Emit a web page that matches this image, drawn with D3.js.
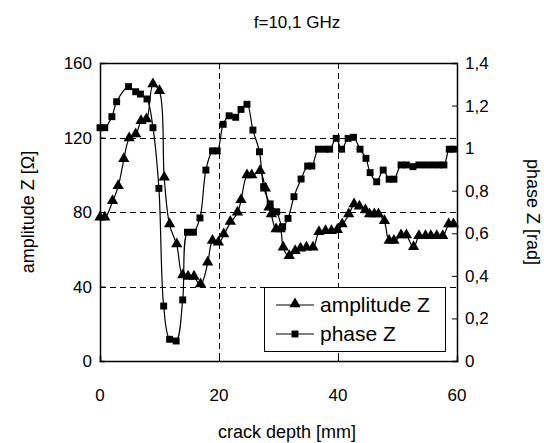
<!DOCTYPE html>
<html>
<head>
<meta charset="utf-8">
<script src="https://cdn.jsdelivr.net/npm/d3@7"></script>
<style>
  body { margin: 0; background: #fff; }
  text { font-family: "Liberation Sans", Arial, sans-serif; fill: #000; }
</style>
</head>
<body>
<svg id="chart" width="544" height="443"></svg>
<script>
// amplitude Z [Ohm] vs crack depth [mm]
let ampX = [0, 0.8, 2.1, 3.05, 4, 4.9, 6, 6.9, 7.8, 8.9, 10, 10.8, 11.7, 12.9, 13.9, 14.8, 15.8, 16.9, 18.1, 18.9, 19.9,
  20.8, 21.9, 23.1, 23.7, 24.7, 25.5, 26.9, 27.8, 28.4, 28.8, 29.6, 30.3, 30.8, 31.8, 32.8, 33.7, 34.7, 35.8, 36.8,
  37.9, 38.9, 39.9, 40.7, 41.8, 42.7, 43.6, 44.6, 45.3, 46.1, 46.8, 47.8, 48.6, 49.4, 50.6, 51.5, 52.7, 53.6, 54.7,
  55.6, 56.6, 57.6, 58.6, 59.4]
let ampY = [76.6, 76.6, 85.5, 93.6, 108, 119.2, 121.3, 128.5, 129.4, 148.2, 144.6, 98.1, 73, 62.3, 45.6, 44.9, 44.9,
  40.8, 52.5, 64.1, 63.2, 67.7, 74.3, 79.3, 86.1, 99.3, 99.3, 101.6, 92.2, 82, 78.4, 70.3, 70.3, 60.5, 56, 58.7, 60,
  60.5, 60.5, 68.9, 69.4, 69.4, 70, 73, 78.4, 83.8, 82.5, 80.5, 78.4, 78.4, 78.4, 74.8, 64.1, 64.1, 67.1, 67.1, 60.8,
  66.7, 66.7, 66.7, 66.7, 66.7, 73, 73]

// phase Z [rad] vs crack depth [mm]
let phaseX = [0, 0.8, 2, 2.8, 4.8, 6, 6.8, 7.9, 8.9, 9.9, 10.7, 11.7, 12.8, 13.9, 14.7, 15.7, 16.8, 17.8, 18.9, 19.7,
  20.7, 21.7, 22.8, 23.7, 24.7, 25.7, 26.8, 27.5, 28.6, 29.7, 30.7, 31.6, 32.6, 33.8, 34.9, 35.6, 36.7, 37.8, 38.6,
  39.7, 40.6, 41.7, 42.6, 43.7, 44.7, 45.4, 46.5, 47.6, 48.6, 49.4, 50.6, 51.5, 52.6, 53.6, 54.7, 55.8, 56.9, 57.8,
  58.7, 59.4]
let phaseY = [1.096, 1.096, 1.148, 1.218, 1.289, 1.265, 1.254, 1.231, 1.096, 0.811, 0.258, 0.102, 0.094, 0.287, 0.605,
  0.605, 0.672, 0.897, 0.987, 0.987, 1.112, 1.152, 1.145, 1.182, 1.206, 1.085, 0.983, 0.819, 0.738, 0.701, 0.631,
  0.670, 0.772, 0.855, 0.916, 0.916, 0.995, 0.995, 0.995, 1.046, 0.995, 1.046, 1.051, 0.995, 0.952, 0.885, 0.842,
  0.897, 0.854, 0.854, 0.921, 0.921, 0.913, 0.921, 0.921, 0.921, 0.921, 0.921, 0.995, 0.995]

let xTicks = [0, 20, 40, 60]
let ampTicks = [0, 40, 80, 120, 160]
let phaseTicks = [0, 0.2, 0.4, 0.6, 0.8, 1, 1.2, 1.4]

let pLeft = 100, pRight = 457, pTop = 63, pBottom = 361

let svg = d3.select('#chart')

let x = d3.scaleLinear().domain([0, 60]).range([pLeft, pRight])
let yAmp = d3.scaleLinear().domain([0, 160]).range([pBottom, pTop])
let yPhase = d3.scaleLinear().domain([0, 1.4]).range([pBottom, pTop])

let comma = (d) => String(d).replace('.', ',')

// grid
let grid = svg.append('g').attr('stroke', '#000').attr('stroke-width', 1).attr('stroke-dasharray', '6,4')
grid.selectAll('.hg').data([40, 80, 120]).enter().append('line')
  .attr('x1', pLeft).attr('x2', pRight)
  .attr('y1', (d) => Math.round(yAmp(d)) + 0.5).attr('y2', (d) => Math.round(yAmp(d)) + 0.5)
grid.selectAll('.vg').data([20, 40]).enter().append('line')
  .attr('y1', pTop).attr('y2', pBottom)
  .attr('x1', (d) => Math.round(x(d)) + 0.5).attr('x2', (d) => Math.round(x(d)) + 0.5)

// axes (ticks inside)
let axL = svg.append('g').attr('transform', 'translate(' + pLeft + ',0)')
  .call(d3.axisRight(yAmp).tickValues(ampTicks).tickSize(5).tickFormat(''))
let axR = svg.append('g').attr('transform', 'translate(' + pRight + ',0)')
  .call(d3.axisLeft(yPhase).tickValues(phaseTicks).tickSize(5).tickFormat(''))
let axB = svg.append('g').attr('transform', 'translate(0,' + pBottom + ')')
  .call(d3.axisTop(x).tickValues(xTicks).tickSize(5).tickFormat(''))
let axT = svg.append('g').attr('transform', 'translate(0,' + pTop + ')')
  .call(d3.axisBottom(x).tickValues([]).tickSize(0))
;[axL, axR, axB, axT].forEach((a) => {
  a.selectAll('path').attr('stroke', '#000').attr('stroke-width', 1.5)
  a.selectAll('line').attr('stroke', '#000')
})

// tick labels
svg.selectAll('.lt').data(ampTicks).enter().append('text')
  .attr('x', pLeft - 8).attr('y', (d) => yAmp(d) + 6)
  .attr('text-anchor', 'end').style('font-size', '17px').text((d) => d)
svg.selectAll('.rt').data(phaseTicks).enter().append('text')
  .attr('x', pRight + 8).attr('y', (d) => yPhase(d) + 6)
  .attr('text-anchor', 'start').style('font-size', '17px').text(comma)
svg.selectAll('.bt').data(xTicks).enter().append('text')
  .attr('x', (d) => x(d)).attr('y', pBottom + 40)
  .attr('text-anchor', 'middle').style('font-size', '17px').text((d) => d)

// titles
svg.append('text').attr('x', 297).attr('y', 28).attr('text-anchor', 'middle')
  .style('font-size', '17px').text('f=10,1 GHz')
svg.append('text').attr('x', 287).attr('y', 438).attr('text-anchor', 'middle')
  .style('font-size', '18px').text('crack depth [mm]')
svg.append('text').attr('transform', 'translate(34,' + (pTop + pBottom) / 2 + ') rotate(-90)')
  .attr('text-anchor', 'middle').style('font-size', '18px').text('amplitude Z [Ω]')
svg.append('text').attr('transform', 'translate(527,' + (pTop + pBottom) / 2 + ') rotate(90)')
  .attr('text-anchor', 'middle').style('font-size', '18px').text('phase Z [rad]')

// series
let ampData = ampX.map((d, i) => [d, ampY[i]])
let phaseData = phaseX.map((d, i) => [d, phaseY[i]])

let ampLine = d3.line().x((d) => x(d[0])).y((d) => yAmp(d[1])).curve(d3.curveCatmullRom)
let phaseLine = d3.line().x((d) => x(d[0])).y((d) => yPhase(d[1])).curve(d3.curveCatmullRom)

svg.append('path').datum(phaseData).attr('d', phaseLine)
  .attr('fill', 'none').attr('stroke', '#000').attr('stroke-width', 1.2)
svg.append('path').datum(ampData).attr('d', ampLine)
  .attr('fill', 'none').attr('stroke', '#000').attr('stroke-width', 1.2)

let tri = d3.symbol().type(d3.symbolTriangle).size(55)
let sq = d3.symbol().type(d3.symbolSquare).size(48)

svg.selectAll('.sq').data(phaseData).enter().append('path')
  .attr('d', sq).attr('fill', '#000')
  .attr('transform', (d) => 'translate(' + x(d[0]) + ',' + yPhase(d[1]) + ')')
svg.selectAll('.tr').data(ampData).enter().append('path')
  .attr('d', tri).attr('fill', '#000')
  .attr('transform', (d) => 'translate(' + x(d[0]) + ',' + (yAmp(d[1]) - 1) + ')')

// legend
let lg = svg.append('g')
lg.append('rect').attr('x', 264.5).attr('y', 287.5).attr('width', 181).attr('height', 64)
  .attr('fill', '#fff').attr('stroke', '#000').attr('stroke-width', 1)
let items = [['amplitude Z', tri, 305], ['phase Z', sq, 334]]
items.forEach((it) => {
  lg.append('line').attr('x1', 276).attr('x2', 314).attr('y1', it[2]).attr('y2', it[2])
    .attr('stroke', '#000').attr('stroke-width', 1.2)
  lg.append('path').attr('d', it[1]).attr('fill', '#000')
    .attr('transform', 'translate(295,' + (it[2] - (it[1] === tri ? 1 : 0)) + ')')
  lg.append('text').attr('x', 320).attr('y', it[2] + 7).style('font-size', '21px').text(it[0])
})
</script>
</body>
</html>
